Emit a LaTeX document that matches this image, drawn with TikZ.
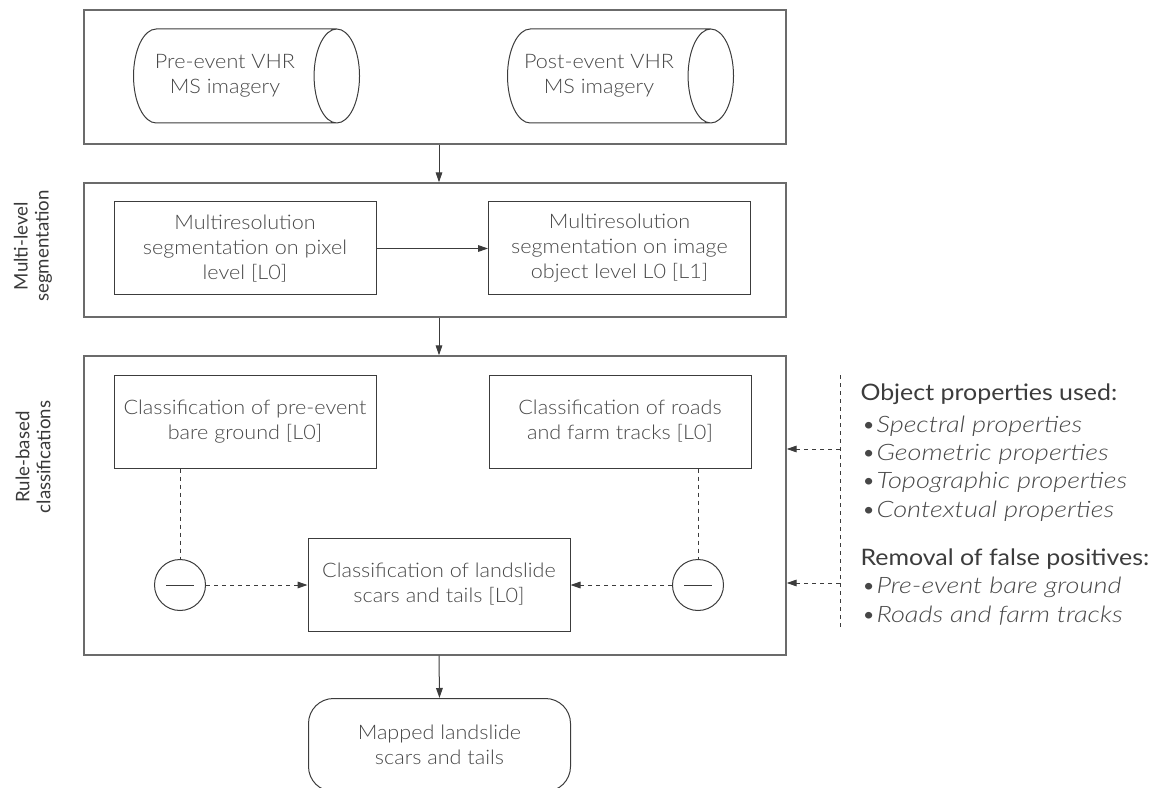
\documentclass[tikz,border=0pt]{standalone}
\usepackage{fontspec}
\setmainfont{Lato Light}[FakeStretch=1.08,ItalicFont={Lato Light Italic},ItalicFeatures={FakeStretch=1.2},BoldFont={Lato}]
\newfontfamily\sidefont{Lato}
\newfontfamily\headfont{Lato}[FakeStretch=1.1]
\usetikzlibrary{shapes.geometric,arrows.meta,positioning}

\definecolor{panelgray}{HTML}{6B6B6B}
\definecolor{boxgray}{HTML}{3C3C3C}
\definecolor{txtgray}{HTML}{474747}

\tikzset{every picture/.style={line width=0.75pt}}
\tikzset{
  panel/.style={draw=panelgray,line width=1.1pt,inner sep=0pt,minimum width=526.5pt,minimum height=100.5pt},
  stepbox/.style={draw=boxgray,inner sep=0pt,minimum width=196.5pt,minimum height=69.75pt,align=center,text=txtgray,font=\fontsize{15}{18.75}\selectfont},
  store/.style={cylinder,draw=boxgray,shape aspect=0.5,inner xsep=0pt,inner ysep=18pt,minimum width=70.5pt,minimum height=169.5pt,align=center,text=txtgray,font=\fontsize{15}{18.75}\selectfont},
  minus/.style={circle,draw=boxgray,inner sep=0pt,minimum size=38.25pt,
    path picture={\draw[boxgray] ([xshift=-10.5pt]path picture bounding box.center) -- ([xshift=10.5pt]path picture bounding box.center);}},
  sidelabel/.style={rotate=90,align=center,text=txtgray!80!black,font=\sidefont\fontsize{14}{15.75}\selectfont},
  flow/.style={draw=boxgray,-{Triangle[length=7.5pt,width=5pt]}},
  dashflow/.style={flow,dash pattern=on 3pt off 3pt},
  dashline/.style={draw=boxgray,dash pattern=on 3pt off 3pt},
  listhead/.style={anchor=base west,inner sep=0pt,text=boxgray,font=\headfont\fontsize{17}{19}\selectfont},
  listitem/.style={anchor=base west,inner sep=0pt,text=txtgray,font=\fontsize{17}{19}\selectfont\itshape}
}
\newcommand{\blt}[1]{\makebox[11.25pt][l]{\upshape\textbullet}#1}

\begin{document}
\begin{tikzpicture}[x=0.75pt,y=0.75pt,yscale=-1,xscale=1]
\path[use as bounding box] (0,0) rectangle (1154,788);

%Shape: Rectangle
\node[panel] (topbox) at (435,77) {};
\node[panel] (segbox) at (435,250) {};
\node[panel,minimum height=224.25pt] (rulebox) at (435,505.5) {};

%Shape: Can
\node[store] (pre) at (225,76) {Pre-event VHR\\MS imagery};
\node[store] (post) at (599,76) {Post-event VHR\\MS imagery};

%Shape: Rectangle
\node[stepbox] (pixseg) at (245,248.5) {Multiresolution\\segmentation on pixel\\level [L0]};
\node[stepbox] (objseg) at (619.5,248.5) {Multiresolution\\segmentation on image\\object level L0 [L1]};
\node[stepbox] (bare) at (245,421.5) {Classification of pre-event\\bare ground [L0]};
\node[stepbox] (roads) at (620,421.5) {Classification of roads\\and farm tracks [L0]};
\node[stepbox] (scars) at (439,584.5) {Classification of landslide\\scars and tails [L0]};
\node[stepbox,rounded corners=18.75pt] (mapped) at (439.5,745) {Mapped landslide\\scars and tails};

%Shape: Circle
\node[minus] (minusL) at (180,585) {};
\node[minus] (minusR) at (698,585) {};

%Straight Lines
\draw[flow] (topbox.south -| scars.north) -- (segbox.north -| scars.north);
\draw[flow] (segbox.south -| scars.north) -- (rulebox.north -| scars.north);
\draw[flow] (rulebox.south -| scars.north) -- (mapped.north);
\draw[flow] (pixseg.east) -- (objseg.west);

%Dashed Lines
\draw[dashline] (bare.south -| minusL) -- (minusL.north);
\draw[dashline] (roads.south -| minusR) -- (minusR.north);
\draw[dashflow] (minusL.east) -- (scars.west |- minusL.east);
\draw[dashflow] (minusR.west) -- (scars.east |- minusR.west);

\coordinate (railtop) at (840,375);
\coordinate (railbot) at (840,628);
\coordinate (propsin) at (840,449);
\coordinate (falsein) at (840,583);
\draw[dashline] (railtop) -- (railbot);
\draw[dashflow] (propsin) -- (rulebox.east |- propsin);
\draw[dashflow] (falsein) -- (rulebox.east |- falsein);

% Text Node
\node[sidelabel] (seglabel) at (33,246) {Multi-level\\segmentation};
\node[sidelabel] (rulelabel) at (33,457) {Rule-based\\classifications};

% Text Node
\node[listhead] (propshead) at (860,400) {Object properties used:};
\node[listitem] (propA) at (861,432) {\blt{Spectral properties}};
\node[listitem] (propB) at (861,460) {\blt{Geometric properties}};
\node[listitem] (propC) at (861,488) {\blt{Topographic properties}};
\node[listitem] (propD) at (861,517) {\blt{Contextual properties}};
\node[listhead] (falsehead) at (860,565) {Removal of false positives:};
\node[listitem] (falseA) at (861,593) {\blt{Pre-event bare ground}};
\node[listitem] (falseB) at (861,622) {\blt{Roads and farm tracks}};

\end{tikzpicture}
\end{document}
